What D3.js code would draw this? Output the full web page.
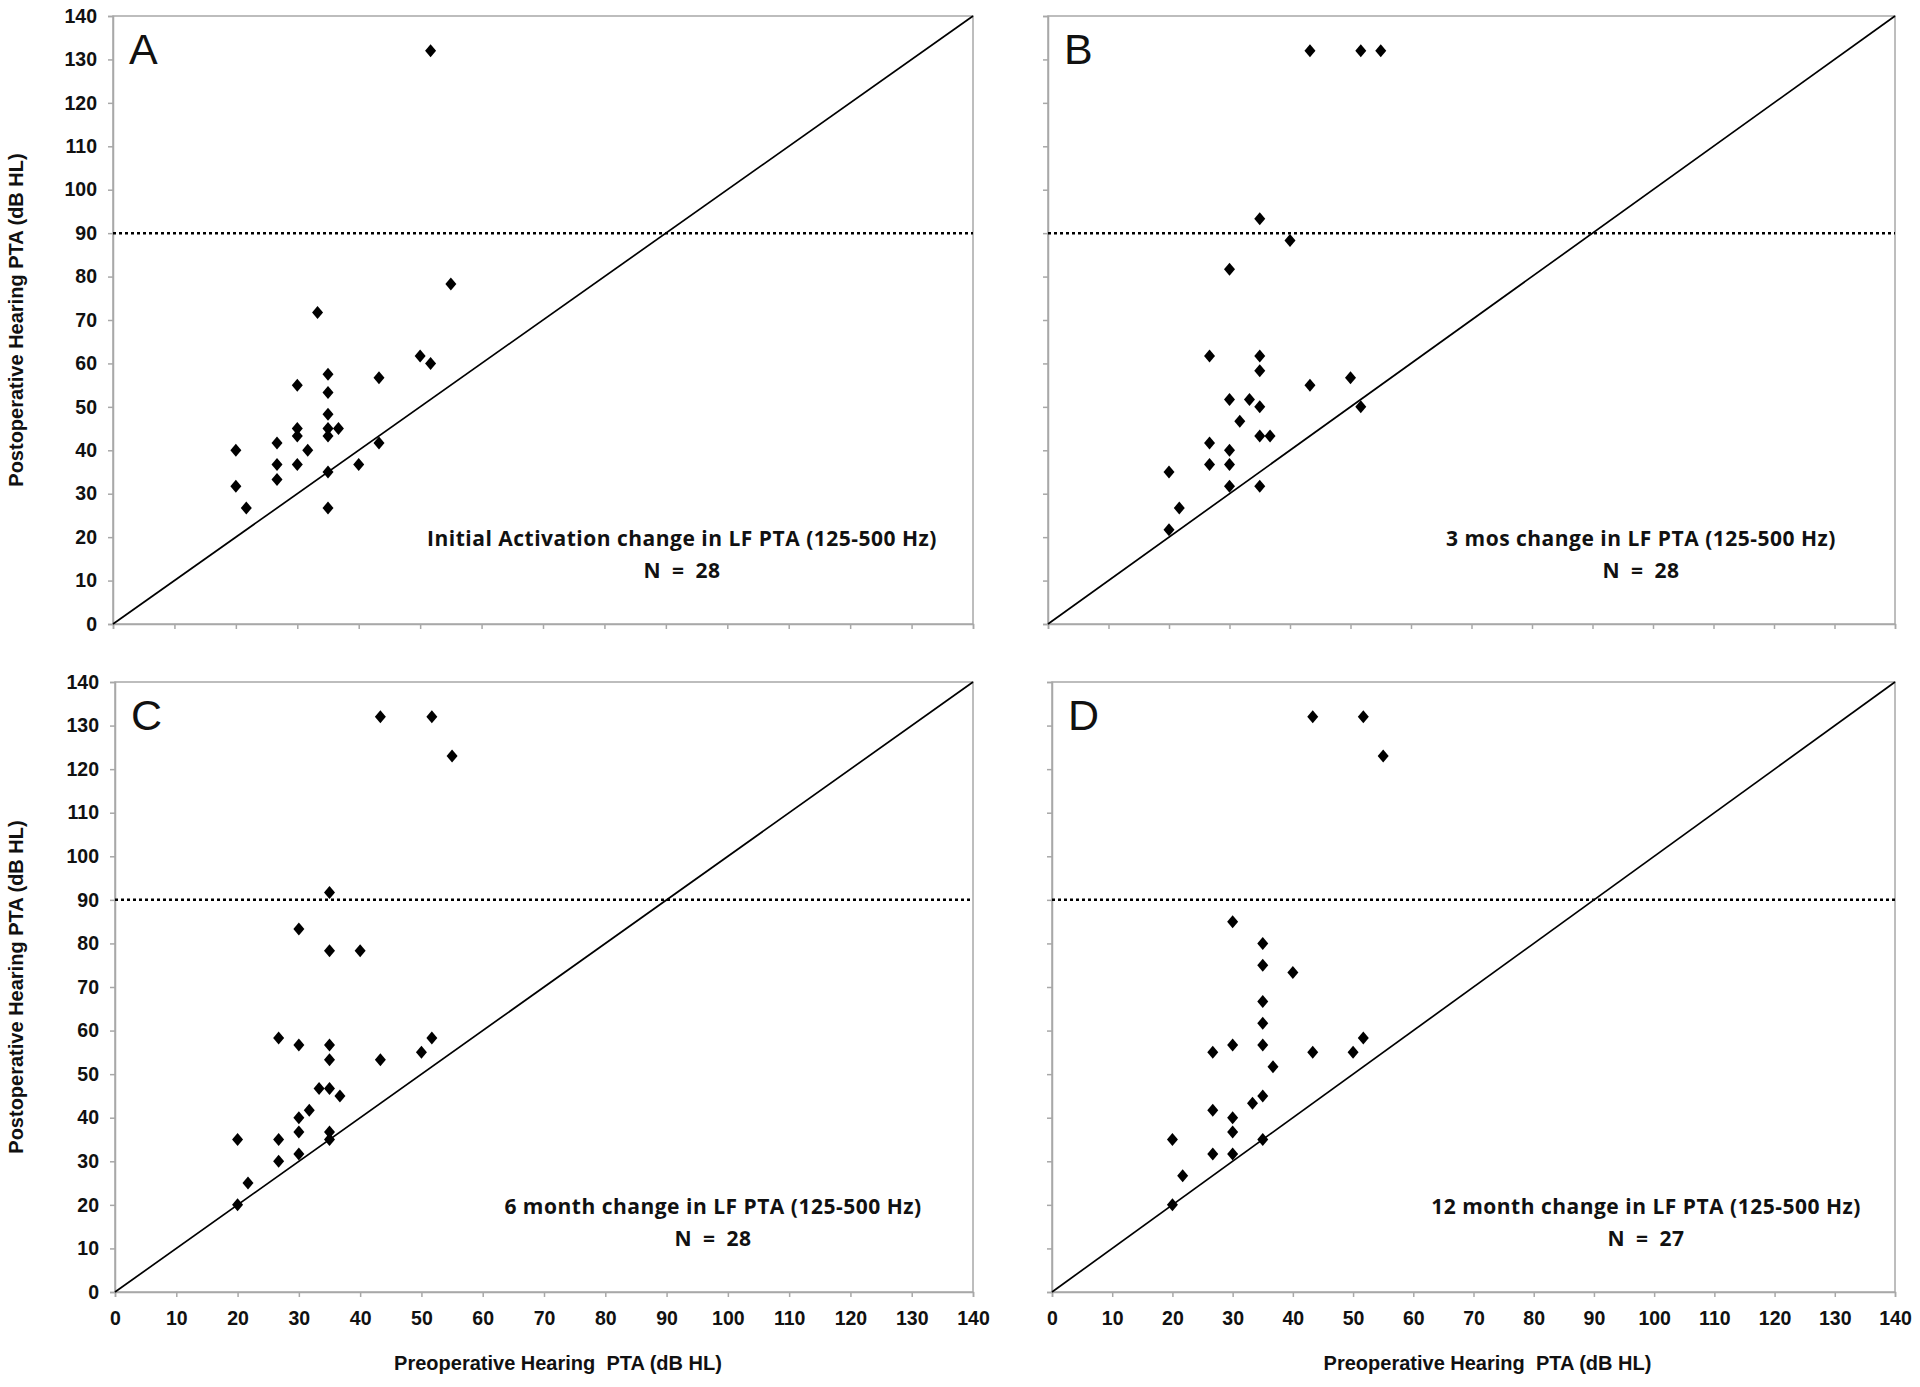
<!DOCTYPE html>
<html>
<head>
<meta charset="utf-8">
<script src="https://cdn.jsdelivr.net/npm/d3@7"></script>
<style>
  html, body { margin: 0; padding: 0; background: #fff; }
  svg { display: block; }
  text.pre { white-space: pre; }
</style>
</head>
<body>
<svg id="chart" width="1920" height="1387"></svg>
<script>
// ---- Data ----
const axisTicks = [0, 10, 20, 30, 40, 50, 60, 70, 80, 90, 100, 110, 120, 130, 140];
const panelLetters = ["A", "B", "C", "D"];
const panelTitles = [
  "Initial Activation change in LF PTA (125-500 Hz)",
  "3 mos change in LF PTA (125-500 Hz)",
  "6 month change in LF PTA (125-500 Hz)",
  "12 month change in LF PTA (125-500 Hz)"
];
const panelN = ["N = 28", "N = 28", "N = 28", "N = 27"];
const thresholdLine = 90;
const yLabel = "Postoperative Hearing PTA (dB HL)";
const xLabel = "Preoperative Hearing  PTA (dB HL)";

const preA  = [51.7, 55, 33.3, 50, 51.7, 35, 43.3, 30, 35, 35, 30, 35, 36.7, 30, 35, 26.7, 43.3, 20, 31.7, 26.7, 30, 40, 26.7, 35, 20, 21.7, 35];
const postA = [132, 78.3, 71.7, 61.7, 60, 57.5, 56.7, 55, 53.3, 48.3, 45, 45, 45, 43.3, 43.3, 41.7, 41.7, 40, 40, 36.7, 36.7, 36.7, 33.3, 35, 31.7, 26.7, 26.7];

const preB  = [43.3, 51.7, 55, 35, 40, 30, 26.7, 35, 35, 43.3, 50, 30, 33.3, 35, 51.7, 31.7, 35, 36.7, 26.7, 30, 26.7, 30, 20, 30, 35, 21.7, 20];
const postB = [132, 132, 132, 93.3, 88.3, 81.7, 61.7, 61.7, 58.3, 55, 56.7, 51.7, 51.7, 50, 50, 46.7, 43.3, 43.3, 41.7, 40, 36.7, 36.7, 35, 31.7, 31.7, 26.7, 21.7];

const preC  = [43.3, 51.7, 55, 35, 30, 35, 40, 26.7, 51.7, 30, 35, 35, 43.3, 50, 33.3, 35, 36.7, 31.7, 30, 30, 35, 20, 26.7, 35, 26.7, 30, 21.7, 20];
const postC = [132, 132, 123, 91.7, 83.3, 78.3, 78.3, 58.3, 58.3, 56.7, 56.7, 53.3, 53.3, 55, 46.7, 46.7, 45, 41.7, 40, 36.7, 36.7, 35, 35, 35, 30, 31.7, 25, 20];

const preD  = [43.3, 51.7, 55, 30, 35, 35, 40, 35, 35, 30, 35, 51.7, 26.7, 43.3, 50, 36.7, 35, 33.3, 26.7, 30, 30, 20, 35, 26.7, 30, 21.7, 20];
const postD = [132, 132, 123, 85, 80, 75, 73.3, 66.7, 61.7, 56.7, 56.7, 58.3, 55, 55, 55, 51.7, 45, 43.3, 41.7, 40, 36.7, 35, 35, 31.7, 31.7, 26.7, 20];

// ---- Layout ----
const panels = [
  { pre: preA, post: postA, x0: 113, x1: 973, y0: 624, y1: 16,  yTickLabels: true,  xTickLabels: false, textX: 682 },
  { pre: preB, post: postB, x0: 1048, x1: 1895, y0: 624, y1: 16, yTickLabels: false, xTickLabels: false, textX: 1641 },
  { pre: preC, post: postC, x0: 115, x1: 973, y0: 1292, y1: 682, yTickLabels: true,  xTickLabels: true,  textX: 713 },
  { pre: preD, post: postD, x0: 1052, x1: 1895, y0: 1292, y1: 682, yTickLabels: false, xTickLabels: true, textX: 1646 }
];

const svg = d3.select("#chart");
const grey = "#a8a8a8";
const tickFont = "'Liberation Sans', Arial, sans-serif";
const annFont = "'Open Sans', Lato, sans-serif";

panels.forEach((p, i) => {
  const x = d3.scaleLinear().domain([0, 140]).range([p.x0, p.x1]);
  const y = d3.scaleLinear().domain([0, 140]).range([p.y0, p.y1]);
  const g = svg.append("g");

  // frame
  g.append("rect")
    .attr("x", x(0)).attr("y", y(140))
    .attr("width", x(140) - x(0)).attr("height", y(0) - y(140))
    .attr("fill", "none").attr("stroke", grey).attr("stroke-width", 1.5);

  // y axis
  const yAxis = d3.axisLeft(y).tickValues(axisTicks).tickSize(5).tickPadding(11)
    .tickFormat(p.yTickLabels ? d3.format("d") : () => "");
  const ya = g.append("g").attr("transform", `translate(${x(0)},0)`).call(yAxis);
  ya.select(".domain").attr("stroke", grey).attr("stroke-width", 1.5);
  ya.selectAll(".tick line").attr("stroke", grey).attr("stroke-width", 1.5);
  ya.selectAll(".tick text").attr("font-family", tickFont).attr("font-weight", "bold")
    .attr("font-size", 19.5).attr("fill", "#111");

  // x axis
  const xAxis = d3.axisBottom(x).tickValues(axisTicks).tickSize(5).tickPadding(14)
    .tickFormat(p.xTickLabels ? d3.format("d") : () => "");
  const xa = g.append("g").attr("transform", `translate(0,${y(0)})`).call(xAxis);
  xa.select(".domain").attr("stroke", grey).attr("stroke-width", 1.5);
  xa.selectAll(".tick line").attr("stroke", grey).attr("stroke-width", 1.5);
  xa.selectAll(".tick text").attr("font-family", tickFont).attr("font-weight", "bold")
    .attr("font-size", 19.5).attr("fill", "#111");

  // diagonal identity line
  g.append("line")
    .attr("x1", x(0)).attr("y1", y(0)).attr("x2", x(140)).attr("y2", y(140))
    .attr("stroke", "#000").attr("stroke-width", 1.7);

  // dotted threshold line
  g.append("line")
    .attr("x1", x(0)).attr("y1", y(thresholdLine)).attr("x2", x(140)).attr("y2", y(thresholdLine))
    .attr("stroke", "#000").attr("stroke-width", 2.5).attr("stroke-dasharray", "3,3");

  // points (diamonds)
  const pts = p.pre.map((v, k) => [v, p.post[k]]);
  g.selectAll("path.pt").data(pts).enter().append("path")
    .attr("class", "pt")
    .attr("d", d => {
      const cx = x(d[0]), cy = y(d[1]);
      return `M${cx},${cy - 6.5}L${cx + 5.5},${cy}L${cx},${cy + 6.5}L${cx - 5.5},${cy}Z`;
    })
    .attr("fill", "#000");

  // panel letter
  g.append("text").attr("x", x(0) + 16).attr("y", y(140) + 48)
    .attr("font-family", tickFont).attr("font-size", 43).attr("fill", "#111")
    .text(panelLetters[i]);

  // annotation
  g.append("text").attr("x", p.textX).attr("y", y(0) - 78)
    .attr("text-anchor", "middle").attr("font-family", annFont).attr("font-weight", "bold")
    .attr("font-size", 21).attr("letter-spacing", 0.5).attr("fill", "#111").text(panelTitles[i]);
  g.append("text").attr("x", p.textX).attr("y", y(0) - 46)
    .attr("text-anchor", "middle").attr("font-family", annFont).attr("font-weight", "bold")
    .attr("font-size", 21).attr("letter-spacing", 0.5).attr("word-spacing", 5)
    .attr("fill", "#111").text(panelN[i]);

  // axis titles
  if (p.yTickLabels) {
    const cy = (y(0) + y(140)) / 2;
    g.append("text").attr("transform", `translate(23,${cy}) rotate(-90)`)
      .attr("text-anchor", "middle").attr("font-family", tickFont).attr("font-weight", "bold")
      .attr("font-size", 20).attr("fill", "#111").text(yLabel);
  }
  if (p.xTickLabels) {
    const cx = (x(0) + x(140)) / 2 + 14;
    g.append("text").attr("class", "pre").attr("x", cx).attr("y", 1370)
      .attr("text-anchor", "middle").attr("font-family", tickFont).attr("font-weight", "bold")
      .attr("font-size", 20).attr("fill", "#111").text(xLabel);
  }
});
</script>
</body>
</html>
